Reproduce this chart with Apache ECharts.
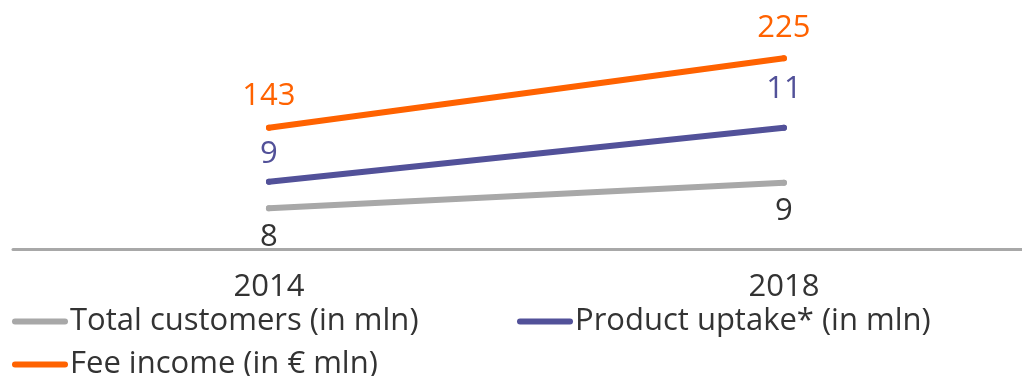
<!DOCTYPE html>
<html>
<head>
<meta charset="utf-8">
<script src="https://cdn.jsdelivr.net/npm/echarts@6/dist/echarts.min.js"></script>
<style>
  html, body { margin: 0; padding: 0; background: #fff; }
  #chart { width: 1022px; height: 376px; }
</style>
</head>
<body>
<div id="chart"></div>
<script>
// Years shown on the horizontal axis
const years = [2014, 2018];

// Series values
const totalCustomers = [8, 9];      // in mln
const productUptake = [9, 11];      // in mln
const feeIncome = [143, 225];       // in EUR mln

const seriesNames = ['Total customers (in mln)', 'Product uptake* (in mln)', 'Fee income (in € mln)'];

const FONT = '"Open Sans", sans-serif';
const TEXT = '#333333';
const GREY = '#a8a8a8';
const PURPLE = '#525199';
const ORANGE = '#ff6200';
const FS = 31;

const toPoints = (vals) => vals.map((v, i) => [years[i], v]);

function lineSeries(name, vals, color, yIndex, labelColor, labelPos, distances) {
  return {
    name: name,
    type: 'line',
    yAxisIndex: yIndex,
    symbol: 'circle',
    symbolSize: 6,
    showSymbol: true,
    silent: true,
    lineStyle: { color: color, width: 6, cap: 'round' },
    itemStyle: { color: color, borderWidth: 0 },
    data: toPoints(vals).map((p, i) => ({
      value: p,
      label: { distance: distances[i] }
    })),
    label: {
      show: true,
      position: labelPos,
      color: labelColor,
      fontFamily: FONT,
      fontSize: FS,
      formatter: (p) => String(p.value[1])
    },
    z: 3
  };
}

const legendIcon = 'path://M3,0 L53,0 A3,3 0 0 1 53,6 L3,6 A3,3 0 0 1 3,0 Z';
const legendText = { color: TEXT, fontFamily: FONT, fontSize: FS, padding: [0, 0, 0, -3] };

function legendAt(left, top, name) {
  return {
    left: left, top: top, padding: 0,
    icon: legendIcon, itemWidth: 56, itemHeight: 6, itemGap: 0,
    textStyle: legendText,
    data: [name]
  };
}

const chart = echarts.init(document.getElementById('chart'), null, { renderer: 'canvas' });
chart.setOption({
  animation: false,
  backgroundColor: '#ffffff',
  grid: { left: 13, right: 0, top: 20, bottom: 126.5, containLabel: false },
  xAxis: {
    type: 'value',
    min: 2012.012,
    max: 2019.849,
    splitLine: { show: false },
    axisTick: { show: false },
    axisLine: { show: true, onZero: false, lineStyle: { color: GREY, width: 3 } },
    axisLabel: {
      customValues: years,
      color: TEXT,
      fontFamily: FONT,
      fontSize: FS,
      margin: 22,
      formatter: (v) => String(v)
    }
  },
  yAxis: [
    { type: 'value', show: false, min: 6.391, max: 15.356 },
    { type: 'value', show: false, min: 6.489, max: 14.989 },
    { type: 'value', show: false, min: -0.92, max: 270.26 }
  ],
  legend: [
    legendAt(12, 306, seriesNames[0]),
    legendAt(517, 306, seriesNames[1]),
    legendAt(12, 349, seriesNames[2])
  ],
  series: [
    lineSeries(seriesNames[0], totalCustomers, GREY, 0, TEXT, 'bottom', [10, 10]),
    lineSeries(seriesNames[1], productUptake, PURPLE, 1, PURPLE, 'top', [9, 20]),
    lineSeries(seriesNames[2], feeIncome, ORANGE, 2, ORANGE, 'top', [13, 12])
  ]
});
</script>
</body>
</html>
